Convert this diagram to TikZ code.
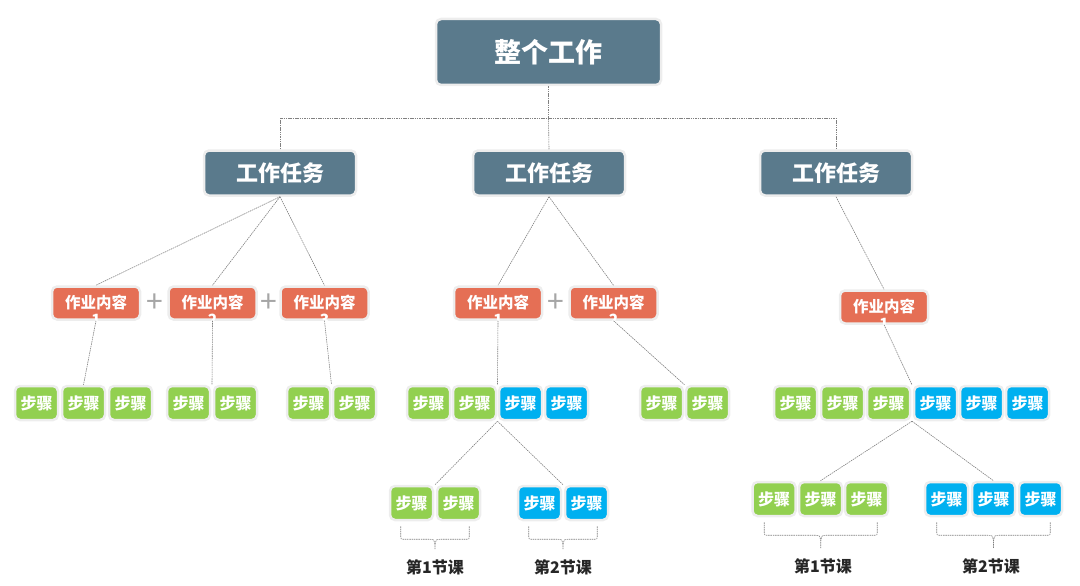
\documentclass[tikz,border=0pt]{standalone}
\usepackage{fontspec}
\newfontfamily\cjk{Noto Sans CJK SC}
\usepackage{xcolor}
\usepackage{tikz}
\usetikzlibrary{positioning,calc}

\definecolor{slate}{HTML}{5A7A8C}
\definecolor{brick}{HTML}{E56F55}
\definecolor{leaf}{HTML}{92D050}
\definecolor{sky}{HTML}{00B0F0}

\begin{document}
\begin{tikzpicture}[x=1pt,y=-1pt,
	box/.style={rounded corners=5pt, draw=black!7, line width=2.5pt, text=white, inner sep=0pt},
	whole/.style={box, fill=slate, minimum width=225pt, minimum height=66pt, font=\cjk\bfseries\fontsize{27}{30}\selectfont},
	task/.style={box, fill=slate, minimum width=152pt, minimum height=45pt, font=\cjk\bfseries\fontsize{22}{25}\selectfont},
	job/.style={box, fill=brick, minimum width=88pt, minimum height=33pt, font=\cjk\bfseries\fontsize{15.5}{18}\selectfont},
	num/.style={text=white, inner sep=0pt, anchor=base, font=\cjk\bfseries\fontsize{15.5}{18}\selectfont},
	gstep/.style={box, fill=leaf, minimum width=43pt, minimum height=34pt, font=\cjk\bfseries\fontsize{16}{18}\selectfont},
	bstep/.style={gstep, fill=sky},
	plus/.style={text=black!35, inner sep=0pt, font=\cjk\fontsize{30}{32}\selectfont},
	link/.style={draw=black!50, line width=0.6pt, dash pattern=on 1.5pt off 0.8pt},
	lesson/.style={inner sep=0pt, text=black!85, font=\cjk\bfseries\fontsize{16}{19}\selectfont}
	]
		\useasboundingbox (0,0) rectangle (1080,586);

		\node[whole] (top) at (548.5,52) {整个工作};
		\node[task] (t1) at (280,173) {工作任务};
		\node[task] (t2) at (549,173) {工作任务};
		\node[task] (t3) at (836,173) {工作任务};

		\node[job] (c1) at (96,303) {作业内容};
		\node[job] (c2) at (212.5,303) {作业内容};
		\node[job] (c3) at (324.5,303) {作业内容};
		\node[job] (c4) at (498,303) {作业内容};
		\node[job] (c5) at (613.5,303) {作业内容};
		\node[job] (c6) at (884,307) {作业内容};
		\node[num] (n1) at ($(c1.south)+(0,5)$) {1};
		\node[num] (n2) at ($(c2.south)+(0,5)$) {2};
		\node[num] (n3) at ($(c3.south)+(0,5)$) {3};
		\node[num] (n4) at ($(c4.south)+(0,5)$) {1};
		\node[num] (n5) at ($(c5.south)+(0,5)$) {2};
		\node[num] (n6) at ($(c6.south)+(0,5)$) {1};
		\node[plus] (p1) at (155,303) {+};
		\node[plus] (p2) at (269,303) {+};
		\node[plus] (p3) at (556,303) {+};

		\node[gstep] (s1) at (36.5,403) {步骤};
		\node[gstep] (s2) at (83.5,403) {步骤};
		\node[gstep] (s3) at (130.5,403) {步骤};
		\node[gstep] (s4) at (188.5,403) {步骤};
		\node[gstep] (s5) at (235.5,403) {步骤};
		\node[gstep] (s6) at (308.5,403) {步骤};
		\node[gstep] (s7) at (354.5,403) {步骤};
		\node[gstep] (s8) at (428.5,403) {步骤};
		\node[gstep] (s9) at (474.5,403) {步骤};
		\node[bstep] (s10) at (520.5,403) {步骤};
		\node[bstep] (s11) at (566.5,403) {步骤};
		\node[gstep] (s12) at (661.5,403) {步骤};
		\node[gstep] (s13) at (707.5,403) {步骤};
		\node[gstep] (s14) at (795.5,403) {步骤};
		\node[gstep] (s15) at (842.5,403) {步骤};
		\node[gstep] (s16) at (888.5,403) {步骤};
		\node[bstep] (s17) at (935.5,403) {步骤};
		\node[bstep] (s18) at (981.5,403) {步骤};
		\node[bstep] (s19) at (1027.5,403) {步骤};

		\node[gstep] (l1) at (411.5,503) {步骤};
		\node[gstep] (l2) at (458.5,503) {步骤};
		\node[bstep] (l3) at (539.5,503) {步骤};
		\node[bstep] (l4) at (586.5,503) {步骤};
		\node[gstep] (l5) at (774,499) {步骤};
		\node[gstep] (l6) at (820.5,499) {步骤};
		\node[gstep] (l7) at (866.5,499) {步骤};
		\node[bstep] (l8) at (946.5,499) {步骤};
		\node[bstep] (l9) at (993.5,499) {步骤};
		\node[bstep] (l10) at (1040.5,499) {步骤};

		\coordinate (bus) at ($(top.south)+(0,32)$);
		\draw[link] (top.south) -- (bus);
		\draw[link] (t1.north) |- (bus) -| (t3.north);
		\draw[link] (bus) -- (t2.north);

		\draw[link] (t1.south) -- (c1.north);
		\draw[link] (t1.south) -- (c2.north);
		\draw[link] (t1.south) -- (c3.north);
		\draw[link] (t2.south) -- (c4.north);
		\draw[link] (t2.south) -- (c5.north);
		\draw[link] (t3.south) -- (c6.north);

		\draw[link] (c1.south) -- (s2.north);
		\draw[link] (c2.south) -- ($(s4.north east)!.5!(s5.north west)$);
		\draw[link] (c3.south) -- ($(s6.north east)!.5!(s7.north west)$);
		\draw[link] (c4.south) -- ($(s9.north east)!.5!(s10.north west)$);
		\draw[link] (c5.south) -- ($(s12.north east)!.5!(s13.north west)$);
		\draw[link] (c6.south) -- ($(s16.north east)!.5!(s17.north west)$);

		\draw[link] ($(s9.south east)!.5!(s10.south west)$) -- ($(l1.north east)!.5!(l2.north west)$);
		\draw[link] ($(s9.south east)!.5!(s10.south west)$) -- ($(l3.north east)!.5!(l4.north west)$);
		\draw[link] ($(s16.south east)!.5!(s17.south west)$) -- (l6.north);
		\draw[link] ($(s16.south east)!.5!(s17.south west)$) -- (l9.north);

		\draw[link] let \p1=($(l1.south west)+(12,5)$), \p2=($(l2.south east)+(-12,5)$), \p3=($(\p1)!.5!(\p2)$) in
			(\p1) -- (\x1,\y1-9pt) .. controls (\x1,\y1-13pt) .. (\x1+4pt,\y1-13pt) -- (\x3-6pt,\y1-13pt) .. controls (\x3-1pt,\y1-13pt) .. (\x3,\y1-19pt) -- (\x3,\y1-23pt)
			(\p2) -- (\x2,\y1-9pt) .. controls (\x2,\y1-13pt) .. (\x2-4pt,\y1-13pt) -- (\x3+6pt,\y1-13pt) .. controls (\x3+1pt,\y1-13pt) .. (\x3,\y1-19pt);
		\draw[link] let \p1=($(l3.south west)+(12,5)$), \p2=($(l4.south east)+(-12,5)$), \p3=($(\p1)!.5!(\p2)$) in
			(\p1) -- (\x1,\y1-9pt) .. controls (\x1,\y1-13pt) .. (\x1+4pt,\y1-13pt) -- (\x3-6pt,\y1-13pt) .. controls (\x3-1pt,\y1-13pt) .. (\x3,\y1-19pt) -- (\x3,\y1-23pt)
			(\p2) -- (\x2,\y1-9pt) .. controls (\x2,\y1-13pt) .. (\x2-4pt,\y1-13pt) -- (\x3+6pt,\y1-13pt) .. controls (\x3+1pt,\y1-13pt) .. (\x3,\y1-19pt);
		\draw[link] let \p1=($(l5.south west)+(13,5)$), \p2=($(l7.south east)+(-12,5)$), \p3=($(\p1)!.5!(\p2)$) in
			(\p1) -- (\x1,\y1-9pt) .. controls (\x1,\y1-13pt) .. (\x1+4pt,\y1-13pt) -- (\x3-6pt,\y1-13pt) .. controls (\x3-1pt,\y1-13pt) .. (\x3,\y1-19pt) -- (\x3,\y1-26pt)
			(\p2) -- (\x2,\y1-9pt) .. controls (\x2,\y1-13pt) .. (\x2-4pt,\y1-13pt) -- (\x3+6pt,\y1-13pt) .. controls (\x3+1pt,\y1-13pt) .. (\x3,\y1-19pt);
		\draw[link] let \p1=($(l8.south west)+(13,5)$), \p2=($(l10.south east)+(-13,5)$), \p3=($(\p1)!.5!(\p2)$) in
			(\p1) -- (\x1,\y1-9pt) .. controls (\x1,\y1-13pt) .. (\x1+4pt,\y1-13pt) -- (\x3-6pt,\y1-13pt) .. controls (\x3-1pt,\y1-13pt) .. (\x3,\y1-19pt) -- (\x3,\y1-26pt)
			(\p2) -- (\x2,\y1-9pt) .. controls (\x2,\y1-13pt) .. (\x2-4pt,\y1-13pt) -- (\x3+6pt,\y1-13pt) .. controls (\x3+1pt,\y1-13pt) .. (\x3,\y1-19pt);

		\node[lesson] (k1) at (435,567) {第1节课};
		\node[lesson] (k2) at (563,567) {第2节课};
		\node[lesson] (k3) at (823,566) {第1节课};
		\node[lesson] (k4) at (991,566) {第2节课};
	\end{tikzpicture}
\end{document}
